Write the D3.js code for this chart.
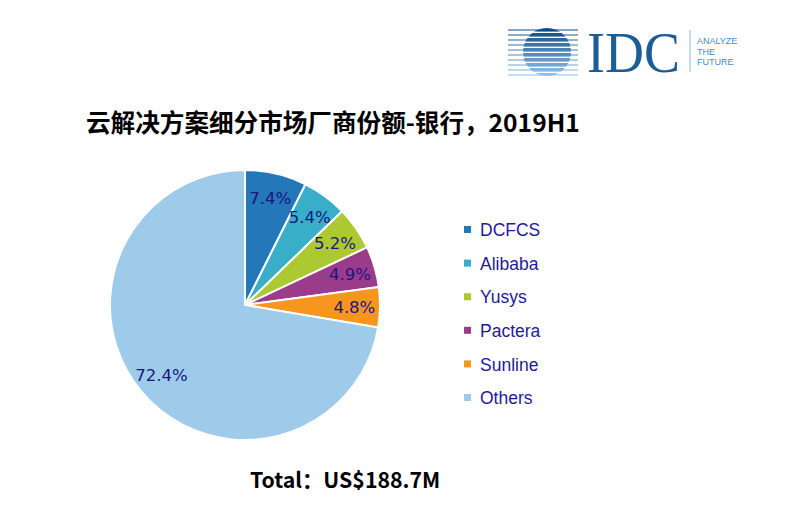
<!DOCTYPE html>
<html><head><meta charset="utf-8">
<script src="https://cdn.jsdelivr.net/npm/d3@7"></script>
<style>body{margin:0;background:#fff}svg{display:block}</style>
</head><body>
<svg id="c" width="794" height="520"></svg>
<script>
const categories = ["DCFCS","Alibaba","Yusys","Pactera","Sunline","Others"];
const shares = [7.4,5.4,5.2,4.9,4.8,72.4];
const colors = ["#2478BA","#38AEC8","#ACC932","#9B3B8C","#F7961E","#9FCBEB"];
const titleText = "云解决方案细分市场厂商份额-银行，2019H1";
const totalText = "Total：US$188.7M";

const svg = d3.select("#c");
const cx = 245, cy = 305, r = 135;

// Title
svg.append("text").attr("x",86).attr("y",132)
  .attr("font-family","'Noto Sans CJK SC', sans-serif").attr("font-weight","bold")
  .attr("font-size",24.6).attr("fill","#000").text(titleText);

// Pie
const pie = d3.pie().sort(null).value(d=>d);
const arcs = pie(shares);
const arc = d3.arc().innerRadius(0).outerRadius(r);
const labelArc = d3.arc().innerRadius(r*0.81).outerRadius(r*0.81);
const g = svg.append("g").attr("transform",`translate(${cx},${cy})`);
g.selectAll("path").data(arcs).join("path")
  .attr("d",arc).attr("fill",(d,i)=>colors[i])
  .attr("stroke","#fff").attr("stroke-width",2);
g.selectAll("text").data(arcs).join("text")
  .attr("transform",(d,i)=>{const c=labelArc.centroid(d);return `translate(${c[0]},${c[1]})`;})
  .attr("text-anchor","middle").attr("dy","0.35em")
  .attr("font-family","'DejaVu Sans', sans-serif").attr("font-size",16.5)
  .attr("fill","#1B1580").text(d=>d3.format(".1f")(d.data)+"%");

// Legend
const ly = d3.scalePoint().domain(categories).range([230,398]);
const lg = svg.append("g");
categories.forEach((c,i)=>{
  lg.append("rect").attr("x",464).attr("y",ly(c)-4).attr("width",7).attr("height",7).attr("fill",colors[i]);
  lg.append("text").attr("x",480).attr("y",ly(c)).attr("dy","0.35em")
    .attr("font-family","'Liberation Sans', Arial, sans-serif").attr("font-size",17.5)
    .attr("fill","#1F1A9A").text(c);
});

// Total
svg.append("text").attr("x",250).attr("y",488)
  .attr("font-family","'Noto Sans CJK SC', sans-serif").attr("font-weight","bold")
  .attr("font-size",21.3).attr("fill","#000").text(totalText);

// IDC logo
const logo = svg.append("g");
const defs = svg.append("defs");
defs.append("clipPath").attr("id","globe").append("circle").attr("cx",547).attr("cy",52).attr("r",24);
const stripes = [30,35,40,45,50,55,60,65,70,75];
const sc = d3.scaleLinear().domain([30,75]).range(["#0E4C8A","#8FC0E8"]);
stripes.forEach(y=>{
  logo.append("line").attr("x1",508).attr("x2",578).attr("y1",y).attr("y2",y)
    .attr("stroke",sc(y)).attr("stroke-width",1.2);
});
const gl = logo.append("g").attr("clip-path","url(#globe)");
stripes.forEach(y=>{
  gl.append("rect").attr("x",520).attr("y",y-2).attr("width",60).attr("height",3.6).attr("fill",sc(y));
});
logo.append("text").attr("x",587).attr("y",72)
  .attr("font-family","'Liberation Serif', 'DejaVu Serif', serif").attr("font-size",57)
  .attr("fill","#1B5E97").attr("textLength",93).attr("lengthAdjust","spacingAndGlyphs").text("IDC");
logo.append("line").attr("x1",690).attr("x2",690).attr("y1",30).attr("y2",72).attr("stroke","#9FC6E6").attr("stroke-width",1.2);
["ANALYZE","THE","FUTURE"].forEach((t,i)=>{
  logo.append("text").attr("x",697).attr("y",44+i*10.5)
    .attr("font-family","'Liberation Sans', Arial, sans-serif").attr("font-size",9)
    .attr("fill","#3A8FCF").text(t);
});
</script>
</body></html>
